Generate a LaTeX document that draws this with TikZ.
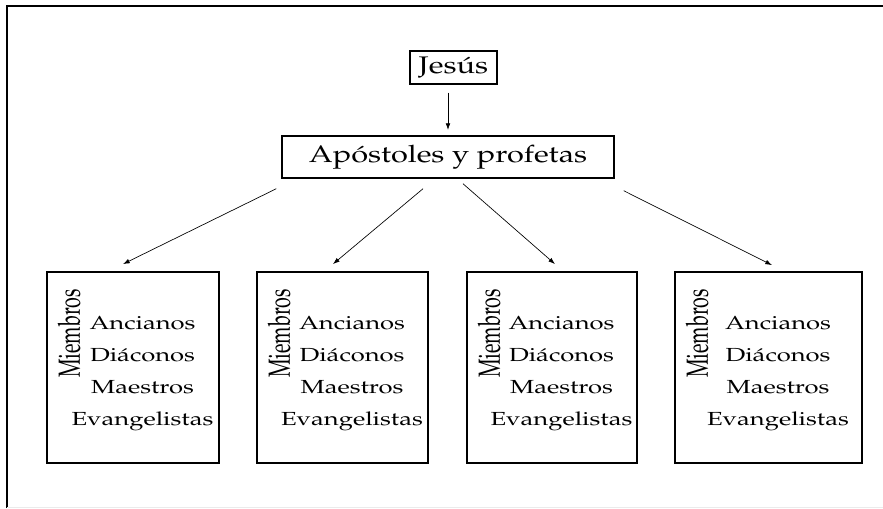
\documentclass[tikz,border=0pt]{standalone}
\usepackage[T1]{fontenc}
\renewcommand{\rmdefault}{ppl}
\usepackage{graphicx}
\usepackage{tikz}
\usetikzlibrary{arrows.meta,positioning,calc}

\newcommand{\wide}[1]{\scalebox{1.28}[1]{#1}}
\newcommand{\wider}[1]{\scalebox{1.35}[1]{#1}}
\tikzset{
  topbox/.style={draw,line width=1.1pt,inner sep=0pt,font=\fontsize{18}{22}\selectfont},
  groupbox/.style={draw,line width=1.4pt,minimum height=143.25pt,inner sep=0pt},
  roles/.style={inner sep=0pt,font=\fontsize{14.2}{24}\selectfont},
  members/.style={inner sep=0pt,rotate=90,font=\fontsize{14.8}{18}\selectfont},
  arr/.style={-{Latex[length=5pt,width=3.5pt]},line width=0.5pt},
}

\begin{document}
\begin{tikzpicture}[x=0.75pt,y=-0.75pt]
    \useasboundingbox (0,0) rectangle (883,508);
    % Frame
    \draw[line width=1.6pt] (7,508) -- (7,6) -- (883,6);
    \draw[black!8] (7,507) -- (883,507);

    % Top
    \node[topbox,minimum width=65.25pt,minimum height=24.75pt] (jesus) at (453.5,67.5) {\wide{Jes\'us}};
    \node[topbox,minimum width=249pt,minimum height=31.5pt] (apost) at (448,157) {\wide{Ap\'ostoles y profetas}};
    \draw[arr,shorten <=6pt,shorten >=4pt] (jesus.south -| apost.north) -- (apost.north);

    % Groups
    \foreach \n/\cx/\w in {1/133/129pt,2/342.5/128.25pt,3/552/127.5pt,4/768.5/140.25pt}{
      \node[groupbox,minimum width=\w] (g\n) at (\cx,367.5) {};
      \node[roles] (r\n) at ($(g\n.center)+(9.5,4)$)
        {\wider{\begin{tabular}{@{}c@{}}Ancianos\\Di\'aconos\\Maestros\\Evangelistas\end{tabular}}};
      \node[members] (m\n) at ($(g\n.north west)+(23,62.5)$) {\scalebox{1}[1.55]{Miembros}};
    }

    % Arrows
    \draw[arr] ($(apost.south west)+(-5,10)$) -- ($(g1.north)+(-10,-7)$);
    \draw[arr] ($(apost.south)+(-25,10)$) -- ($(g2.north)+(-9.5,-7)$);
    \draw[arr] ($(apost.south)+(15,5)$) -- ($(g3.north)+(3,-7)$);
    \draw[arr] ($(apost.south east)+(9,12)$) -- ($(g4.north)+(3.5,-6)$);
\end{tikzpicture}
\end{document}
